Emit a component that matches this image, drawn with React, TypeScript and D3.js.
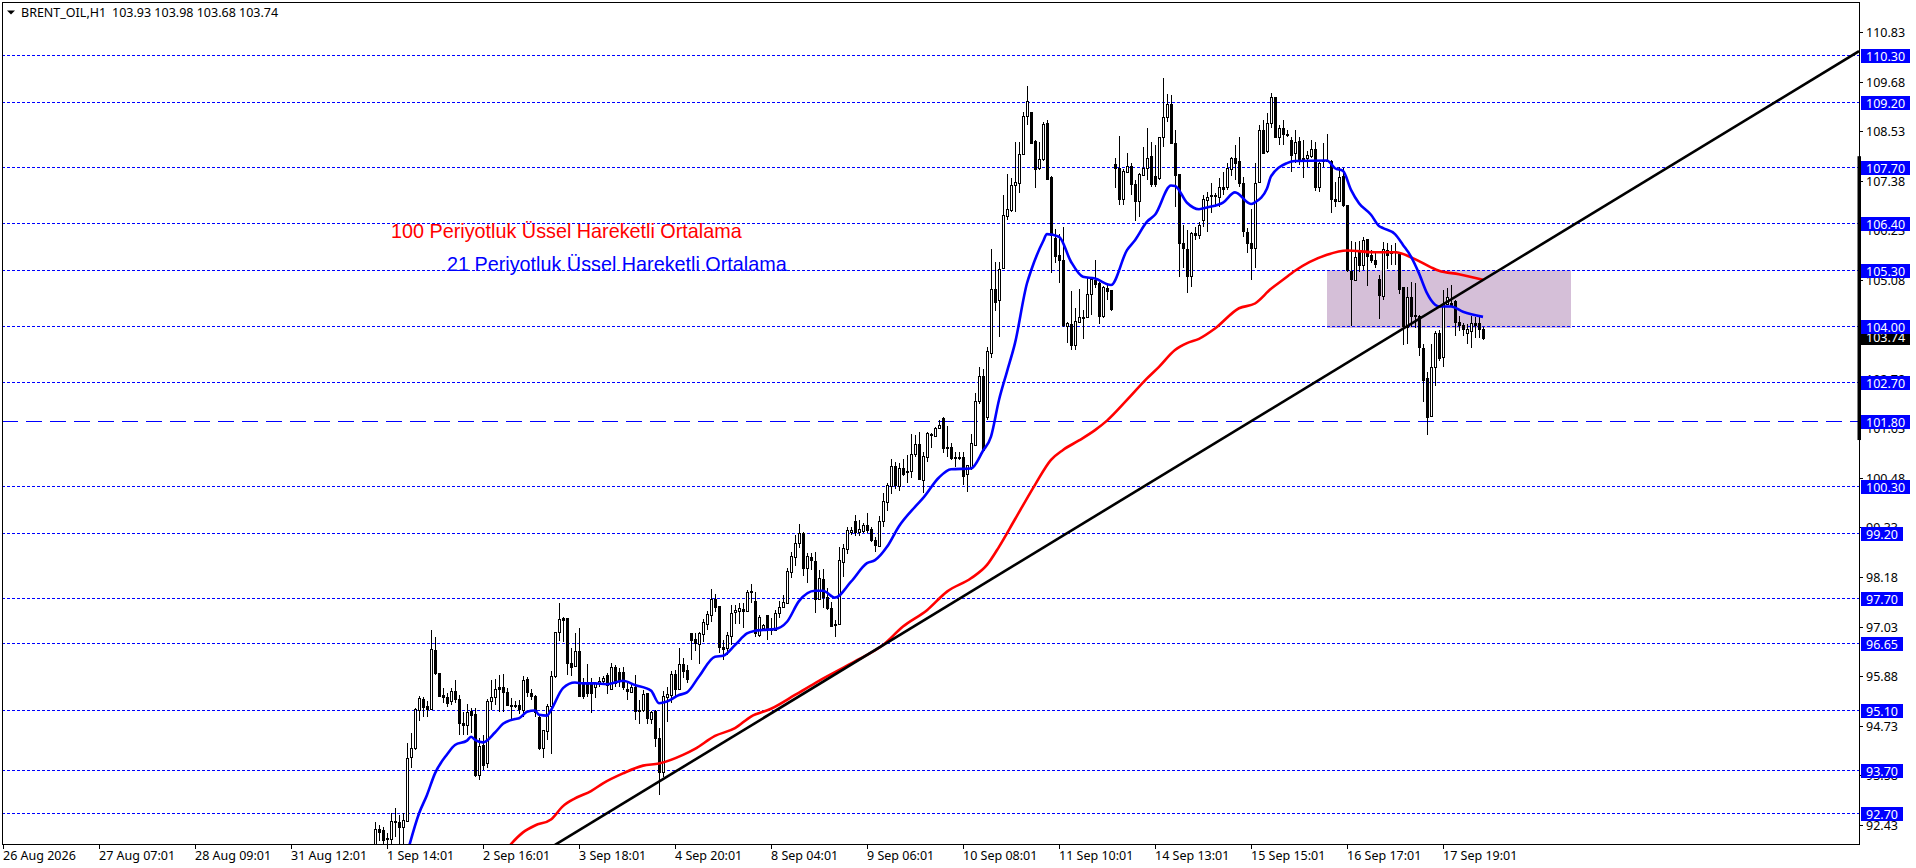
import React from "react";
import * as d3 from "d3";

const WIDTH = 1916;
const HEIGHT = 868;
const FONT = "'Noto Sans', sans-serif";

// one bar is one hour, first visible bar on the chart is number 93
const firstBar = 93;

const opens = [
  91.85,92.33,92.30,92.13,92.09,92.49,92.48,92.38,92.52,94.00,
  94.20,95.09,95.34,95.18,95.12,96.49,95.94,95.44,95.40,95.29,
  95.53,95.35,94.80,94.74,95.07,94.99,93.58,94.28,93.85,95.29,
  95.39,95.62,95.62,95.50,95.21,95.21,95.21,95.09,95.81,95.49,
  95.42,94.94,94.20,94.61,95.18,95.88,96.91,97.22,97.22,96.19,
  96.11,96.45,95.75,95.71,95.71,95.63,95.73,95.77,95.90,95.57,
  96.10,95.98,95.97,95.59,95.52,95.63,95.10,95.10,95.48,94.88,
  95.07,94.43,93.66,95.40,95.44,95.93,95.57,96.17,96.02,96.87,
  96.73,96.62,96.86,97.10,97.30,97.68,97.51,96.55,96.52,96.81,
  97.36,97.40,97.43,97.38,97.86,97.62,96.83,96.99,97.30,96.99,
  96.96,97.34,97.48,97.58,98.30,98.65,98.96,99.21,98.38,98.64,
  98.55,97.68,98.13,97.72,97.45,97.10,97.09,98.53,98.82,99.23,
  99.48,99.23,99.25,99.39,99.29,99.05,98.90,99.49,99.93,100.29,
  100.76,100.30,100.70,100.64,100.63,101.04,101.27,100.43,100.97,101.50,
  101.46,101.63,101.86,101.20,101.19,100.97,100.97,100.96,100.57,100.70,
  101.25,102.27,102.85,101.89,103.37,104.86,104.61,105.35,106.57,106.70,
  107.27,107.32,108.00,108.89,108.97,108.30,107.67,107.88,108.73,107.46,
  106.04,105.66,105.54,104.01,104.05,103.57,104.11,104.19,104.21,104.75,
  105.08,105.00,104.24,104.90,104.84,107.77,107.67,106.95,107.59,107.72,
  107.30,106.92,107.51,107.67,107.96,107.48,107.44,108.40,108.87,109.16,
  108.25,107.54,105.94,105.79,105.18,106.17,106.12,106.48,106.93,107.05,
  107.04,107.01,107.23,107.23,107.65,107.90,107.84,107.32,106.20,105.93,
  105.81,107.34,108.57,108.06,108.73,109.32,108.40,108.60,108.47,108.33,
  108.02,108.30,107.92,107.92,107.96,108.11,107.23,107.86,107.86,107.84,
  106.96,106.92,107.48,106.81,105.29,105.08,105.76,105.42,106.02,105.66,
  105.54,105.09,104.71,105.77,105.76,105.75,105.68,104.92,103.99,104.69,
  104.26,104.23,103.49,102.79,101.92,103.06,103.84,103.28,104.52,104.55,
  104.58,104.11,104.04,103.85,103.90,104.07,104.07,103.93,
];

const highs = [
  92.50,92.42,92.38,92.23,92.69,92.81,92.65,92.69,94.32,94.55,
  95.13,95.42,95.40,95.29,96.95,96.79,95.95,95.60,95.48,95.60,
  95.79,95.44,95.05,95.22,95.13,95.13,94.43,94.51,95.34,95.79,
  95.80,95.90,95.93,95.60,95.36,95.30,95.32,95.88,95.85,95.57,
  95.44,95.01,94.63,95.23,96.00,96.91,97.57,97.26,97.22,96.52,
  96.87,96.99,95.83,96.16,95.83,95.75,95.85,95.88,95.96,96.19,
  96.14,96.06,96.10,95.71,95.71,95.90,95.32,95.56,95.48,95.07,
  95.09,94.67,95.54,95.62,96.00,96.02,96.52,96.29,96.14,96.87,
  96.87,96.91,97.20,97.38,97.89,97.79,97.51,96.72,96.91,97.53,
  97.53,97.57,97.57,97.88,98.02,97.84,97.30,97.10,97.30,97.22,
  97.41,97.63,97.76,98.38,98.77,99.16,99.41,99.23,98.73,98.73,
  98.77,98.34,98.36,97.92,97.61,97.18,98.88,98.95,99.35,99.35,
  99.62,99.50,99.44,99.66,99.35,99.10,99.60,100.14,100.36,100.91,
  100.86,100.82,100.91,101.01,101.50,101.48,101.54,101.09,101.54,101.52,
  101.67,101.83,101.89,101.69,101.30,101.09,101.09,101.09,100.78,101.50,
  102.45,103.05,103.00,103.52,105.79,105.50,105.50,107.05,107.54,107.44,
  108.29,108.29,108.97,109.57,108.97,108.33,108.29,108.75,108.78,107.48,
  106.26,106.14,106.31,104.09,104.82,104.42,104.86,104.39,105.15,105.15,
  105.54,105.04,104.94,105.00,104.84,107.92,108.42,107.65,108.03,107.79,
  107.40,107.55,108.17,108.60,108.29,108.21,108.39,109.76,109.39,109.37,
  108.57,107.54,106.35,106.24,106.20,106.31,106.43,107.05,107.13,107.32,
  107.09,107.44,107.59,107.79,107.94,108.21,108.40,107.46,106.28,106.72,
  107.79,108.68,108.79,108.95,109.41,109.33,108.68,108.79,108.56,108.40,
  108.56,108.40,108.33,108.06,108.33,108.29,107.82,108.25,108.46,107.86,
  107.36,107.69,107.67,106.82,105.98,105.95,105.98,106.07,106.02,105.77,
  105.70,105.19,105.95,105.93,105.89,105.93,105.73,104.92,104.92,105.04,
  105.01,104.26,103.59,102.95,103.60,103.90,103.91,104.84,104.88,104.96,
  104.60,104.24,104.07,104.05,104.24,104.21,104.24,103.98,
];

const lows = [
  91.70,92.06,91.96,91.96,91.96,92.15,91.90,91.90,92.50,93.74,
  94.16,94.84,94.94,94.94,95.11,95.90,95.40,95.25,95.17,95.21,
  95.25,94.51,94.51,94.51,94.55,93.54,93.47,93.70,93.74,95.09,
  95.21,95.05,95.05,95.18,94.86,95.13,95.01,94.94,95.40,95.32,
  94.94,94.16,93.97,94.40,94.07,95.83,96.70,96.68,95.90,95.87,
  96.10,95.40,95.34,95.40,95.03,95.36,95.63,95.71,95.47,95.56,
  95.62,95.62,95.56,95.32,95.49,94.86,94.77,95.05,94.77,94.77,
  94.24,93.12,93.54,94.82,95.25,95.40,95.56,95.83,95.71,96.25,
  96.45,96.17,96.68,96.95,97.14,97.37,96.41,96.25,96.37,96.60,
  97.10,97.10,96.99,97.37,97.57,96.78,96.79,96.96,96.72,96.83,
  96.93,97.22,97.45,97.55,98.15,98.44,98.85,98.20,98.03,98.34,
  97.34,97.65,97.45,97.41,97.01,96.78,97.07,98.17,98.71,99.15,
  99.13,99.13,99.19,99.19,99.00,98.77,98.88,99.35,99.72,100.11,
  100.22,100.18,100.53,100.36,100.47,100.97,100.43,100.14,100.84,101.17,
  101.44,101.61,101.07,100.97,100.90,100.74,100.90,100.32,100.16,100.66,
  101.25,102.20,101.09,101.83,103.27,104.36,103.76,105.32,106.47,106.66,
  106.66,107.09,107.98,108.68,108.25,107.22,107.63,107.85,107.43,105.23,
  105.48,105.01,103.99,103.61,103.44,103.44,104.07,103.70,104.19,104.26,
  104.88,104.05,104.19,104.61,104.36,107.22,106.82,106.82,107.57,107.05,
  106.45,106.53,107.48,107.40,107.24,107.24,107.40,108.17,108.75,108.25,
  106.76,105.15,105.35,104.77,104.91,106.00,106.02,106.31,106.20,106.62,
  106.78,106.78,107.05,107.17,107.48,107.40,107.24,106.08,105.70,105.08,
  105.35,107.32,108.03,108.02,108.60,108.37,108.21,108.21,108.40,107.59,
  107.79,107.75,107.44,107.69,107.90,107.15,107.13,107.69,107.82,106.64,
  106.76,106.90,106.78,105.27,104.01,105.06,105.25,105.31,104.94,105.46,
  105.35,104.17,104.60,105.32,105.42,105.42,104.75,103.57,103.59,103.99,
  103.95,103.30,102.25,101.48,101.90,102.61,103.20,103.06,104.50,104.47,
  103.78,103.90,103.78,103.59,103.50,103.74,103.72,103.68,
];

const closes = [
  92.34,92.25,92.07,92.09,92.51,92.51,92.38,92.54,93.97,94.20,
  95.12,95.36,95.15,95.12,96.50,95.94,95.42,95.40,95.26,95.54,
  95.34,94.78,94.74,95.05,94.97,93.58,94.26,93.81,95.30,95.39,
  95.58,95.59,95.52,95.21,95.20,95.20,95.11,95.79,95.52,95.42,
  95.05,94.22,94.63,95.18,95.88,96.91,97.20,97.18,96.18,96.10,
  96.45,95.42,95.42,95.49,95.49,95.71,95.77,95.83,95.67,96.10,
  95.73,95.79,95.62,95.54,95.62,95.07,95.07,95.46,94.90,95.05,
  94.43,93.66,95.42,95.46,95.93,95.57,96.17,96.00,95.82,96.71,
  96.64,96.87,97.13,97.32,97.66,97.48,96.55,96.50,96.83,97.34,
  97.41,97.45,97.38,97.82,97.82,96.87,97.26,97.07,96.95,96.95,
  97.34,97.49,97.61,98.33,98.67,98.96,99.21,98.38,98.67,98.57,
  97.68,98.15,97.72,97.45,97.04,97.07,98.57,98.85,99.26,99.26,
  99.23,99.29,99.39,99.26,99.05,98.92,99.48,99.94,100.32,100.76,
  100.32,100.70,100.57,100.61,101.03,101.26,100.45,100.99,101.52,101.48,
  101.63,101.71,101.17,101.18,100.94,100.94,100.96,100.53,100.78,101.28,
  102.27,102.85,101.13,103.43,104.86,104.57,105.32,106.59,106.72,107.28,
  107.34,108.00,108.88,109.23,108.26,107.65,107.88,108.70,107.43,106.12,
  105.64,105.54,104.03,104.07,103.57,104.13,104.21,104.21,104.75,105.11,
  104.98,104.24,104.91,104.83,104.41,107.67,106.95,107.61,107.72,107.30,
  106.92,107.53,107.67,107.92,107.30,107.31,108.39,108.85,109.16,108.26,
  107.51,105.94,105.83,105.17,106.16,106.11,106.35,106.95,107.01,107.03,
  107.05,107.23,107.20,107.67,107.90,107.80,107.32,106.22,105.93,105.83,
  107.32,108.57,108.03,108.73,109.32,108.39,108.60,108.46,108.45,107.98,
  108.27,107.86,107.90,107.98,108.11,107.24,107.79,107.85,107.85,106.95,
  106.90,107.46,106.82,105.31,105.10,105.62,105.42,106.00,105.64,105.53,
  105.45,104.73,105.80,105.66,105.70,105.73,104.86,104.01,104.69,104.23,
  104.23,103.51,102.75,101.90,103.05,103.84,103.26,104.52,104.67,104.50,
  104.09,104.02,103.93,103.93,104.07,104.03,103.93,103.74,
];

// EMA 21 at the bars where it bends
const ema21Bars = [
  101,104,106,108,111,113,116,117,118,120,123,125,128,129,131,133,134,136,137,140,
  143,145,148,151,155,158,162,164,166,169,171,174,178,180,183,186,188,190,193,196,
  199,203,205,208,212,216,218,221,224,228,230,234,237,242,245,247,249,251,253,256,
  257,260,261,264,267,270,273,277,281,283,286,288,292,293,296,299,301,305,308,312,
  313,316,317,321,323,331,333,335,337,339,342,344,345,348,350,352,354,356,357,359,
  362,365,370,
];
const ema21Values = [
  91.75,92.69,93.12,93.62,94.06,94.28,94.38,94.47,94.40,94.34,94.57,94.77,94.88,94.90,95.05,95.08,94.98,94.96,95.09,95.60,
  95.73,95.71,95.71,95.69,95.77,95.67,95.54,95.25,95.29,95.44,95.50,95.87,96.33,96.35,96.60,96.87,96.93,96.95,96.97,97.14,
  97.62,97.86,97.86,97.70,98.07,98.50,98.57,98.88,99.36,99.81,100.01,100.49,100.68,100.70,101.11,101.44,102.29,102.95,103.61,105.00,
  105.29,105.97,106.14,106.08,105.50,105.15,105.11,104.96,105.77,106.00,106.43,106.59,107.27,107.26,106.87,106.72,106.76,106.87,107.11,106.84,
  106.88,107.20,107.48,107.79,107.84,107.85,107.67,107.61,107.17,106.86,106.59,106.33,106.28,106.14,105.89,105.62,105.23,104.77,104.61,104.46,
  104.46,104.34,104.22,
];

const ema100Bars = [
  125,127,130,133,137,140,143,147,150,155,160,164,170,173,178,183,187,192,198,204,
  210,214,220,225,231,236,242,246,249,253,258,262,265,269,273,276,281,286,289,293,
  296,299,303,309,313,317,320,323,331,336,343,348,353,357,359,364,370,
];
const ema100Values = [
  91.76,91.98,92.25,92.41,92.55,92.86,93.04,93.21,93.39,93.62,93.80,93.85,94.05,94.19,94.49,94.67,94.94,95.12,95.44,95.77,
  96.07,96.27,96.60,97.03,97.41,97.84,98.15,98.46,98.88,99.52,100.32,100.90,101.13,101.35,101.59,101.81,102.29,102.79,103.06,103.45,
  103.61,103.71,103.95,104.42,104.53,104.87,105.08,105.29,105.66,105.76,105.72,105.72,105.56,105.37,105.29,105.21,105.08,
];

const trendBars = [138, 464];
const trendPrices = [91.96, 110.39];

const zoneBars = [331, 392];
const zonePrices = [105.3, 103.96];

const dottedLevels = [110.3, 109.2, 107.7, 106.4, 105.3, 104.0, 102.7, 100.3, 99.2, 97.7, 96.65, 95.1, 93.7, 92.7];
const dashedLevels = [101.8];
const priceTicks = [110.83, 109.68, 108.53, 107.38, 106.23, 105.08, 103.93, 102.78, 101.63, 100.48, 99.33, 98.18, 97.03, 95.88, 94.73, 93.58, 92.43];
const timeBars = [0, 24, 48, 72, 96, 120, 144, 168, 192, 216, 240, 264, 288, 312, 336, 360];
const timeLabels = [
  "26 Aug 2026", "27 Aug 07:01", "28 Aug 09:01", "31 Aug 12:01", "1 Sep 14:01", "2 Sep 16:01",
  "3 Sep 18:01", "4 Sep 20:01", "8 Sep 04:01", "9 Sep 06:01", "10 Sep 08:01", "11 Sep 10:01",
  "14 Sep 13:01", "15 Sep 15:01", "16 Sep 17:01", "17 Sep 19:01",
];
const lastPrice = 103.74;
const rangeBar = [101.36, 107.95];

const left = 2;
const top = 2;
const right = 1859;
const bottom = 844;

const x = d3.scaleLinear().domain([0, 464]).range([3, 1859]);
const y = d3.scaleLinear().domain([92.7, 110.3]).range([813, 55]);

const pathFrom = (bars: number[], values: number[], curve: d3.CurveFactory = d3.curveLinear) =>
  d3.line<number>().x((d) => x(d)).y((_, i) => y(values[i])).curve(curve)(bars) as string;

const LevelLabel = ({ value }: { value: number }) => {
  const text = value.toFixed(2);
  return (
    <g>
      <rect x={1861} y={Math.round(y(value)) - 6} width={text.length > 5 ? 49 : 42} height={14} fill="#0000ff" />
      <text x={1866} y={Math.round(y(value)) + 6} fill="#fff">{text}</text>
    </g>
  );
};

export default function App() {
  return (
    <svg
      width={WIDTH}
      height={HEIGHT}
      style={{ position: "absolute", left: 0, top: 0, background: "#fff", fontFamily: FONT, fontSize: 12.5 }}
    >
      <defs>
        <clipPath id="plot">
          <rect x={left} y={top} width={right - left} height={bottom - top} />
        </clipPath>
      </defs>

      <g clipPath="url(#plot)">
        <rect
          x={x(zoneBars[0])}
          y={y(zonePrices[0])}
          width={x(zoneBars[1]) - x(zoneBars[0])}
          height={y(zonePrices[1]) - y(zonePrices[0])}
          fill="#d5bfd8"
        />
        {dottedLevels.map((d) => (
          <line key={d} x1={left} x2={right} y1={Math.round(y(d)) + 0.5} y2={Math.round(y(d)) + 0.5}
            stroke="#0000ff" strokeDasharray="3 2" shapeRendering="crispEdges" />
        ))}
        {dashedLevels.map((d) => (
          <line key={d} x1={left} x2={right} y1={Math.round(y(d)) + 0.5} y2={Math.round(y(d)) + 0.5}
            stroke="#0000ff" strokeDasharray="16 8" shapeRendering="crispEdges" />
        ))}

        <g shapeRendering="crispEdges">
          {opens.map((o, i) => {
            const c = closes[i];
            const cx = x(firstBar + i);
            const yTop = Math.round(y(Math.max(o, c)));
            const yBot = Math.round(y(Math.min(o, c)));
            return (
              <g key={i}>
                <line x1={cx + 0.5} x2={cx + 0.5} y1={y(highs[i])} y2={y(lows[i])} stroke="#000" />
                <rect x={cx - 0.5} y={yTop + 0.5} width={2} height={Math.max(yBot - yTop, 1)}
                  fill={c >= o ? "#fff" : "#000"} stroke="#000" />
              </g>
            );
          })}
        </g>

        <g fill="none" strokeWidth={2.6}>
          <path d={pathFrom(ema100Bars, ema100Values, d3.curveMonotoneX)} stroke="#ff0000" />
          <path d={pathFrom(ema21Bars, ema21Values, d3.curveMonotoneX)} stroke="#0000ff" />
          <path d={pathFrom(trendBars, trendPrices)} stroke="#000" />
        </g>

        <text x={391} y={238} fill="#ff0000" fontFamily="'Liberation Sans', Arial, sans-serif" fontSize={19.8}>
          100 Periyotluk Üssel Hareketli Ortalama
        </text>
        <text x={447} y={271} fill="#0000ff" fontFamily="'Liberation Sans', Arial, sans-serif" fontSize={19.8}>
          21 Periyotluk Üssel Hareketli Ortalama
        </text>
      </g>

      <rect x={left + 0.5} y={top + 0.5} width={right - left} height={bottom - top} fill="none" stroke="#000" shapeRendering="crispEdges" />
      <rect x={right - 1.5} y={y(rangeBar[1])} width={3.5} height={y(rangeBar[0]) - y(rangeBar[1])} fill="#000" />

      {/* title */}
      <path d="M7 10.5H15L11 14.5Z" fill="#000" />
      <text x={21} y={17} fill="#000">BRENT_OIL,H1</text>
      <text x={112} y={17} fill="#000">103.93 103.98 103.68 103.74</text>

      {/* price axis */}
      {priceTicks.map((d) => (
        <g key={d}>
          <line x1={right} x2={right + 4} y1={Math.round(y(d)) + 0.5} y2={Math.round(y(d)) + 0.5} stroke="#000" shapeRendering="crispEdges" />
          <text x={1866} y={Math.round(y(d)) + 5} fill="#000">{d.toFixed(2)}</text>
        </g>
      ))}
      <rect x={1861} y={Math.round(y(lastPrice)) - 7} width={49} height={14} fill="#000" />
      <text x={1866} y={Math.round(y(lastPrice)) + 4} fill="#fff">{lastPrice.toFixed(2)}</text>
      {[...dottedLevels, ...dashedLevels].map((d) => (
        <LevelLabel key={d} value={d} />
      ))}

      {/* time axis */}
      {timeBars.map((d, i) => (
        <g key={d}>
          <line x1={x(d) + 0.5} x2={x(d) + 0.5} y1={bottom} y2={bottom + 5} stroke="#000" shapeRendering="crispEdges" />
          <text x={x(d)} y={860} fill="#000">{timeLabels[i]}</text>
        </g>
      ))}
    </svg>
  );
}
